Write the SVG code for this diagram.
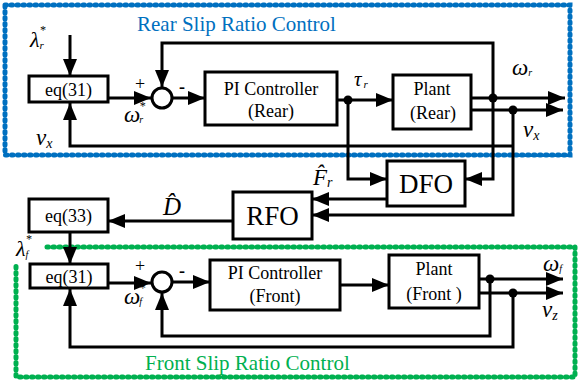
<svg xmlns="http://www.w3.org/2000/svg" width="580" height="389" viewBox="0 0 580 389">
<style>
.b{fill:#fff;stroke:#000;stroke-width:3}
.a{fill:none;stroke:#000;stroke-width:3;marker-end:url(#ah)}
.t{font-family:"Liberation Serif","Times New Roman",serif;font-size:18px;fill:#000;text-anchor:middle}
.m{font-family:"Liberation Serif","Times New Roman",serif;font-style:italic;fill:#000}
.big{font-family:"Liberation Serif","Times New Roman",serif;font-size:27px;fill:#000;text-anchor:middle}
.ttl{font-family:"Liberation Serif","Times New Roman",serif;font-size:21px}
.dot{fill:none;stroke-width:5;stroke-dasharray:1.5 4.5;stroke-linecap:round}
</style>
<defs>
<marker id="ah" markerUnits="userSpaceOnUse" markerWidth="18" markerHeight="15" refX="17" refY="7" orient="auto">
<path d="M0,0 L17,7 L0,14 z" fill="#000"/>
</marker>
</defs>
<rect width="580" height="389" fill="#fff"/>
<g id="rear-frame">
<rect x="5" y="5" width="565" height="150" class="dot" stroke="#0070C0"/>
<text x="137" y="31" class="ttl" fill="#0070C0">Rear Slip Ratio Control</text>
</g>
<g id="front-frame">
<path d="M47,247 H575 V377 H16 V265" class="dot" stroke="#00B050"/>
<text x="145" y="370" class="ttl" fill="#00B050">Front Slip Ratio Control</text>
</g>
<g id="connectors">
<path class="a" d="M70,35 V76"/>
<path class="a" d="M513,146 H70 V103"/>
<path class="a" d="M108,98 H151"/>
<path class="a" d="M493,98 V43 H162 V87"/>
<path class="a" d="M172,98 H205"/>
<path class="a" d="M337,100 H393"/>
<path class="a" d="M471,98 H565"/>
<path class="a" d="M471,110 H563"/>
<path class="a" d="M348,100 V179 H387"/>
<path class="a" d="M493,98 V179 H465"/>
<path class="a" d="M513,110 V215 H312"/>
<path class="a" d="M387,199 H312"/>
<path class="a" d="M233,221 H108"/>
<path class="a" d="M70,232 V264"/>
<path class="a" d="M108,283 H151"/>
<path class="a" d="M172,282 H210"/>
<path class="a" d="M340,285 H389"/>
<path class="a" d="M479,279 H563"/>
<path class="a" d="M479,293 H563"/>
<path class="a" d="M490,279 V336 H162 V293"/>
<path class="a" d="M513,293 V347 H70 V289"/>
<circle cx="348" cy="100" r="4.5"/>
<circle cx="493" cy="98" r="4.5"/>
<circle cx="513" cy="110" r="4.5"/>
<circle cx="490" cy="279" r="4.5"/>
<circle cx="513" cy="293" r="4.5"/>
</g>
<g id="eq31-rear">
<rect x="29" y="76" width="79" height="26" class="b"/>
<text x="68.5" y="95.5" class="t">eq(31)</text>
</g>
<g id="sum-rear">
<circle cx="162" cy="98" r="10" class="b"/>
<text x="140" y="90" class="t" font-size="19">+</text>
<text x="182" y="93" class="t" font-size="22" font-weight="bold">-</text>
</g>
<g id="pi-rear">
<rect x="205" y="72" width="132" height="53" class="b"/>
<text x="271" y="95" class="t">PI Controller</text>
<text x="271" y="117" class="t">(Rear)</text>
</g>
<g id="plant-rear">
<rect x="393" y="75" width="78" height="54" class="b"/>
<text x="432" y="95" class="t" font-size="21">Plant</text>
<text x="433" y="119" class="t" font-size="21">(Rear)</text>
</g>
<g id="dfo">
<rect x="387" y="161" width="78" height="45" class="b"/>
<text x="426" y="193" class="big">DFO</text>
</g>
<g id="rfo">
<rect x="233" y="192" width="79" height="47" class="b"/>
<text x="272.5" y="225" class="big">RFO</text>
</g>
<g id="eq33">
<rect x="29" y="199" width="79" height="33" class="b"/>
<text x="68.5" y="222" class="t">eq(33)</text>
</g>
<g id="eq31-front">
<rect x="30" y="264" width="78" height="24" class="b"/>
<text x="69" y="282.5" class="t">eq(31)</text>
</g>
<g id="sum-front">
<circle cx="162" cy="282" r="10" class="b"/>
<text x="140" y="272" class="t" font-size="19">+</text>
<text x="182" y="277" class="t" font-size="22" font-weight="bold">-</text>
</g>
<g id="pi-front">
<rect x="210" y="260" width="130" height="50" class="b"/>
<text x="275" y="279" class="t">PI Controller</text>
<text x="275" y="302" class="t">(Front)</text>
</g>
<g id="plant-front">
<rect x="389" y="255" width="90" height="53" class="b"/>
<text x="434" y="275" class="t" font-size="21">Plant</text>
<text x="434" y="300" class="t" font-size="21">(Front )</text>
</g>
<g id="labels">
<text x="30" y="47" class="m" font-size="22">λ<tspan font-size="12" dy="-13" dx="0">*</tspan><tspan font-size="11" dy="15" dx="-6">r</tspan></text>
<text x="36" y="145" class="m" font-size="23">v<tspan font-size="14" dy="3">x</tspan></text>
<text x="124" y="122" class="m" font-size="23">ω<tspan font-size="12" dy="-12" dx="-1">*</tspan><tspan font-size="10" dy="13" dx="-6">r</tspan></text>
<text x="354" y="86" class="m" font-size="21">τ<tspan font-size="11" dy="2" dx="2">r</tspan></text>
<text x="512" y="75" class="m" font-size="23">ω<tspan font-size="10" dy="1">r</tspan></text>
<text x="523" y="137" class="m" font-size="23">v<tspan font-size="14" dy="3">x</tspan></text>
<text x="313" y="185" class="m" font-size="23">F̂<tspan font-size="14" dy="2">r</tspan></text>
<text x="163" y="215" class="m" font-size="25">D̂</text>
<text x="16" y="256" class="m" font-size="22">λ<tspan font-size="12" dy="-13" dx="0">*</tspan><tspan font-size="10" dy="15" dx="-6">f</tspan></text>
<text x="124" y="304" class="m" font-size="23">ω<tspan font-size="12" dy="-12" dx="-1">*</tspan><tspan font-size="10" dy="13" dx="-6">f</tspan></text>
<text x="543" y="271" class="m" font-size="23">ω<tspan font-size="10" dy="1">f</tspan></text>
<text x="542" y="317" class="m" font-size="23">v<tspan font-size="14" dy="3">z</tspan></text>
</g>
</svg>
